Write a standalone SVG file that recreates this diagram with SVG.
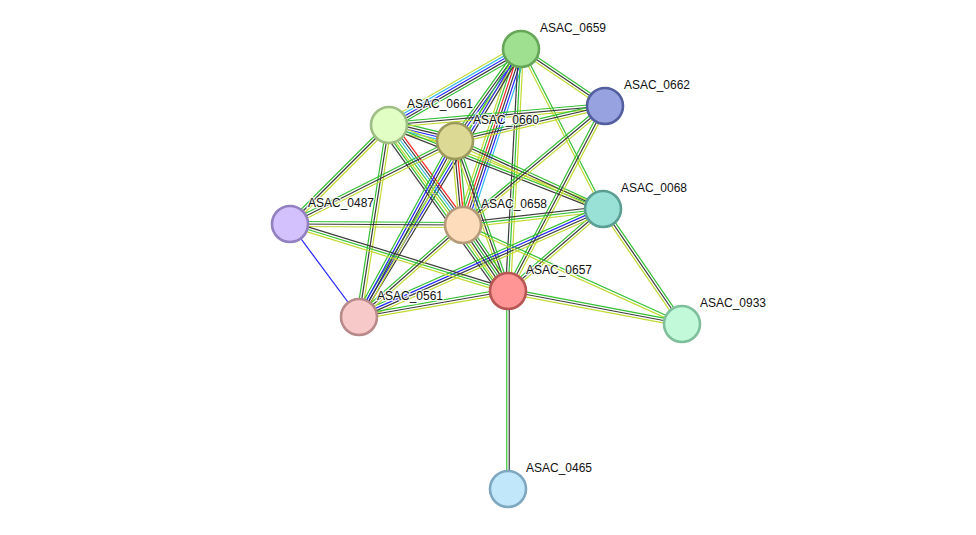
<svg xmlns="http://www.w3.org/2000/svg" width="976" height="535" viewBox="0 0 976 535">
<style>
line{stroke-width:1.2;fill:none;vector-effect:non-scaling-stroke}
.g{stroke:#33c033}.k{stroke:#3c3c3c}.y{stroke:#c2d934}.b{stroke:#2222ff}.r{stroke:#ff2222}.c{stroke:#33bbee}
.n circle{stroke-width:2.6}
text{font-family:"Liberation Sans",Arial,sans-serif;font-size:12px;fill:#111;stroke:#fff;stroke-width:2.5;stroke-opacity:0.8;paint-order:stroke}
</style>
<rect width="976" height="535" fill="#fff"/>
<g id="connectors">
<!-- 0659-0661 -->
<g transform="translate(389,125) rotate(-29.93) scale(1,1.25)"><line class="y" x2="152.3" y1="-4" y2="-4"/><line class="c" x2="152.3" y1="-2" y2="-2"/><line class="b" x2="152.3" y1="0" y2="0"/><line class="k" x2="152.3" y1="2" y2="2"/><line class="g" x2="152.3" y1="4" y2="4"/></g>
<!-- 0659-0660 -->
<g transform="translate(455,141) rotate(-54.35) scale(1,1.25)"><line class="g" x2="113.2" y1="-3" y2="-3"/><line class="k" x2="113.2" y1="-1" y2="-1"/><line class="b" x2="113.2" y1="1" y2="1"/><line class="y" x2="113.2" y1="3" y2="3"/></g>
<!-- 0659-0658 -->
<g transform="translate(463,225) rotate(-71.76) scale(1,1.25)"><line class="y" x2="185.3" y1="-5" y2="-5"/><line class="g" x2="185.3" y1="-3" y2="-3"/><line class="r" x2="185.3" y1="-1" y2="-1"/><line class="k" x2="185.3" y1="1" y2="1"/><line class="b" x2="185.3" y1="3" y2="3"/><line class="c" x2="185.3" y1="5" y2="5"/></g>
<!-- 0659-0657 -->
<g transform="translate(508,291) rotate(-86.93) scale(1,1.25)"><line class="k" x2="242.4" y1="-2" y2="-2"/><line class="g" x2="242.4" y1="0" y2="0"/><line class="y" x2="242.4" y1="2" y2="2"/></g>
<!-- 0659-0662 -->
<g transform="translate(521,49) rotate(34.16) scale(1,1.25)"><line class="g" x2="101.5" y1="-2" y2="-2"/><line class="k" x2="101.5" y1="0" y2="0"/><line class="y" x2="101.5" y1="2" y2="2"/></g>
<!-- 0659-0068 -->
<g transform="translate(521,49) rotate(62.86) scale(1,1.25)"><line class="g" x2="179.8" y1="-1" y2="-1"/><line class="y" x2="179.8" y1="1" y2="1"/></g>
<!-- 0659-0561 -->
<g transform="translate(359,317) rotate(-58.85) scale(1,1.25)"><line class="g" x2="313.2" y1="-2" y2="-2"/><line class="b" x2="313.2" y1="0" y2="0"/><line class="k" x2="313.2" y1="2" y2="2"/></g>
<!-- 0661-0660 -->
<g transform="translate(389,125) rotate(13.63) scale(1,1.25)"><line class="g" x2="67.9" y1="-4" y2="-4"/><line class="k" x2="67.9" y1="-2" y2="-2"/><line class="b" x2="67.9" y1="0" y2="0"/><line class="c" x2="67.9" y1="2" y2="2"/><line class="y" x2="67.9" y1="4" y2="4"/></g>
<!-- 0661-0658 -->
<g transform="translate(389,125) rotate(53.5) scale(1,1.25)"><line class="r" x2="124.4" y1="-4" y2="-4"/><line class="k" x2="124.4" y1="-2" y2="-2"/><line class="c" x2="124.4" y1="0" y2="0"/><line class="g" x2="124.4" y1="2" y2="2"/><line class="y" x2="124.4" y1="4" y2="4"/></g>
<!-- 0661-0657 -->
<g transform="translate(389,125) rotate(54.37) scale(1,1.25)"><line class="g" x2="204.2" y1="5" y2="5"/><line class="k" x2="204.2" y1="7" y2="7"/></g>
<!-- 0661-0662 -->
<g transform="translate(389,125) rotate(-5.03) scale(1,1.25)"><line class="g" x2="216.8" y1="-2" y2="-2"/><line class="k" x2="216.8" y1="0" y2="0"/><line class="y" x2="216.8" y1="2" y2="2"/></g>
<!-- 0661-0068 -->
<g transform="translate(389,125) rotate(21.43) scale(1,1.25)"><line class="y" x2="229.9" y1="-2" y2="-2"/><line class="g" x2="229.9" y1="0" y2="0"/><line class="k" x2="229.9" y1="2" y2="2"/></g>
<!-- 0661-0487 -->
<g transform="translate(290,224) rotate(-45) scale(1,1.25)"><line class="g" x2="140" y1="-2" y2="-2"/><line class="k" x2="140" y1="0" y2="0"/><line class="y" x2="140" y1="2" y2="2"/></g>
<!-- 0661-0561 -->
<g transform="translate(359,317) rotate(-81.12) scale(1,1.25)"><line class="g" x2="194.3" y1="-2" y2="-2"/><line class="k" x2="194.3" y1="0" y2="0"/><line class="y" x2="194.3" y1="2" y2="2"/></g>
<!-- 0660-0662 -->
<g transform="translate(455,141) rotate(-13.13) scale(1,1.25)"><line class="g" x2="154" y1="-2" y2="-2"/><line class="k" x2="154" y1="0" y2="0"/><line class="y" x2="154" y1="2" y2="2"/></g>
<!-- 0660-0658 -->
<g transform="translate(455,141) rotate(84.56) scale(1,1.25)"><line class="g" x2="84.4" y1="-3" y2="-3"/><line class="r" x2="84.4" y1="-1" y2="-1"/><line class="k" x2="84.4" y1="1" y2="1"/><line class="y" x2="84.4" y1="3" y2="3"/></g>
<!-- 0660-0657 -->
<g transform="translate(455,141) rotate(70.54) scale(1,1.25)"><line class="g" x2="159.1" y1="-2" y2="-2"/><line class="k" x2="159.1" y1="0" y2="0"/><line class="y" x2="159.1" y1="2" y2="2"/></g>
<!-- 0660-0068 -->
<g transform="translate(455,141) rotate(24.68) scale(1,1.25)"><line class="g" x2="162.9" y1="-2" y2="-2"/><line class="k" x2="162.9" y1="0" y2="0"/><line class="y" x2="162.9" y1="2" y2="2"/></g>
<!-- 0660-0487 -->
<g transform="translate(290,224) rotate(-26.7) scale(1,1.25)"><line class="g" x2="184.7" y1="-2" y2="-2"/><line class="k" x2="184.7" y1="0" y2="0"/><line class="y" x2="184.7" y1="2" y2="2"/></g>
<!-- 0660-0561 -->
<g transform="translate(359,317) rotate(-61.39) scale(1,1.25)"><line class="g" x2="200.5" y1="-3" y2="-3"/><line class="b" x2="200.5" y1="-1" y2="-1"/><line class="k" x2="200.5" y1="1" y2="1"/><line class="y" x2="200.5" y1="3" y2="3"/></g>
<!-- 0662-0658 -->
<g transform="translate(463,225) rotate(-39.96) scale(1,1.25)"><line class="g" x2="185.3" y1="-2" y2="-2"/><line class="k" x2="185.3" y1="0" y2="0"/><line class="y" x2="185.3" y1="2" y2="2"/></g>
<!-- 0662-0657 -->
<g transform="translate(508,291) rotate(-62.33) scale(1,1.25)"><line class="g" x2="208.9" y1="-2" y2="-2"/><line class="k" x2="208.9" y1="0" y2="0"/><line class="y" x2="208.9" y1="2" y2="2"/></g>
<!-- 0068-0658 -->
<g transform="translate(463,225) rotate(-6.52) scale(1,1.25)"><line class="k" x2="140.9" y1="-2" y2="-2"/><line class="g" x2="140.9" y1="0" y2="0"/><line class="y" x2="140.9" y1="2" y2="2"/></g>
<!-- 0068-0657 -->
<g transform="translate(508,291) rotate(-40.8) scale(1,1.25)"><line class="g" x2="125.5" y1="-2" y2="-2"/><line class="k" x2="125.5" y1="0" y2="0"/><line class="y" x2="125.5" y1="2" y2="2"/></g>
<!-- 0068-0561 -->
<g transform="translate(359,317) rotate(-23.87) scale(1,1.25)"><line class="g" x2="266.8" y1="-3" y2="-3"/><line class="b" x2="266.8" y1="-1" y2="-1"/><line class="k" x2="266.8" y1="1" y2="1"/><line class="y" x2="266.8" y1="3" y2="3"/></g>
<!-- 0068-0933 -->
<g transform="translate(603,209) rotate(55.51) scale(1,1.25)"><line class="g" x2="139.5" y1="-2" y2="-2"/><line class="k" x2="139.5" y1="0" y2="0"/><line class="y" x2="139.5" y1="2" y2="2"/></g>
<!-- 0487-0658 -->
<g transform="translate(290,224) rotate(0.33) scale(1,1.25)"><line class="g" x2="173" y1="-2" y2="-2"/><line class="k" x2="173" y1="0" y2="0"/><line class="y" x2="173" y1="2" y2="2"/></g>
<!-- 0487-0657 -->
<g transform="translate(290,224) rotate(17.08) scale(1,1.25)"><line class="k" x2="228.1" y1="-2" y2="-2"/><line class="g" x2="228.1" y1="0" y2="0"/><line class="y" x2="228.1" y1="2" y2="2"/></g>
<!-- 0487-0561 -->
<line class="b" x1="290" y1="224" x2="359" y2="317"/>
<!-- 0658-0657 -->
<g transform="translate(463,225) rotate(55.71) scale(1,1.25)"><line class="g" x2="79.9" y1="-4" y2="-4"/><line class="k" x2="79.9" y1="-2" y2="-2"/><line class="g" x2="79.9" y1="0" y2="0"/><line class="k" x2="79.9" y1="2" y2="2"/><line class="y" x2="79.9" y1="4" y2="4"/></g>
<!-- 0658-0561 -->
<g transform="translate(359,317) rotate(-41.5) scale(1,1.25)"><line class="g" x2="138.9" y1="-2" y2="-2"/><line class="k" x2="138.9" y1="0" y2="0"/><line class="y" x2="138.9" y1="2" y2="2"/></g>
<!-- 0658-0933 -->
<g transform="translate(463,225) rotate(24.32) scale(1,1.25)"><line class="g" x2="240.3" y1="-1" y2="-1"/><line class="y" x2="240.3" y1="1" y2="1"/></g>
<!-- 0657-0561 -->
<g transform="translate(359,317) rotate(-9.9) scale(1,1.25)"><line class="g" x2="151.3" y1="-2" y2="-2"/><line class="k" x2="151.3" y1="0" y2="0"/><line class="y" x2="151.3" y1="2" y2="2"/></g>
<!-- 0657-0933 -->
<g transform="translate(508,291) rotate(10.74) scale(1,1.25)"><line class="g" x2="177.1" y1="-2" y2="-2"/><line class="k" x2="177.1" y1="0" y2="0"/><line class="y" x2="177.1" y1="2" y2="2"/></g>
<!-- 0657-0465 -->
<g transform="translate(508,291) rotate(90) scale(1,1.25)"><line class="g" x2="198" y1="1" y2="1"/><line class="k" x2="198" y1="-1" y2="-1"/></g>
</g>
<g id="ASAC_0659" class="n"><circle cx="521" cy="49" r="18" fill="#9fdf90" stroke="#66a658"/></g>
<g id="ASAC_0662" class="n"><circle cx="605" cy="106" r="18" fill="#97a2e0" stroke="#535f9e"/></g>
<g id="ASAC_0661" class="n"><circle cx="389" cy="125" r="18" fill="#e1ffc4" stroke="#9fbe85"/></g>
<g id="ASAC_0660" class="n"><circle cx="455" cy="141" r="18" fill="#dcd995" stroke="#9d9a5e"/></g>
<g id="ASAC_0068" class="n"><circle cx="603" cy="209" r="18" fill="#99e0d6" stroke="#5a9e94"/></g>
<g id="ASAC_0487" class="n"><circle cx="290" cy="224" r="18" fill="#d3c1fe" stroke="#9280c0"/></g>
<g id="ASAC_0658" class="n"><circle cx="463" cy="225" r="18" fill="#fddcbc" stroke="#b59a7a"/></g>
<g id="ASAC_0657" class="n"><circle cx="508" cy="291" r="18" fill="#ff9595" stroke="#b85555"/></g>
<g id="ASAC_0561" class="n"><circle cx="359" cy="317" r="18" fill="#f8c9c9" stroke="#b88a8a"/></g>
<g id="ASAC_0933" class="n"><circle cx="682" cy="324" r="18" fill="#c1f9d9" stroke="#7fbf9c"/></g>
<g id="ASAC_0465" class="n"><circle cx="508" cy="489" r="18" fill="#c1e7fb" stroke="#7ea7c0"/></g>
<g id="labels">
<text x="540" y="32">ASAC_0659</text>
<text x="624" y="89">ASAC_0662</text>
<text x="407" y="108">ASAC_0661</text>
<text x="473" y="124">ASAC_0660</text>
<text x="621" y="192">ASAC_0068</text>
<text x="308" y="207">ASAC_0487</text>
<text x="481" y="208">ASAC_0658</text>
<text x="526" y="274">ASAC_0657</text>
<text x="377" y="300">ASAC_0561</text>
<text x="700" y="307">ASAC_0933</text>
<text x="526" y="472">ASAC_0465</text>
</g>
</svg>
